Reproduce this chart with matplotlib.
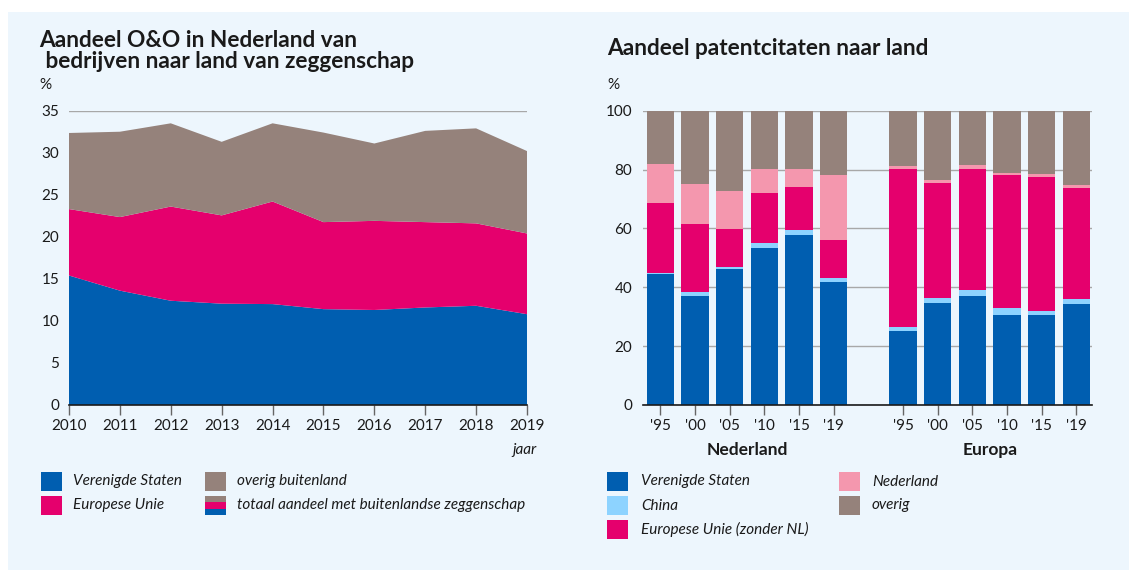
import matplotlib
matplotlib.use('Agg')
import matplotlib.pyplot as plt
import numpy as np
from matplotlib.patches import Rectangle

# ---------------- data ----------------
years = [2010, 2011, 2012, 2013, 2014, 2015, 2016, 2017, 2018, 2019]
rd_us = [15.4, 13.6, 12.4, 12.05, 12.0, 11.4, 11.3, 11.6, 11.8, 10.8]
rd_eu = [7.9, 8.75, 11.2, 10.5, 12.2, 10.35, 10.6, 10.15, 9.8, 9.6]
rd_other = [9.05, 10.15, 9.9, 8.75, 9.3, 10.65, 9.2, 10.85, 11.3, 9.8]

period_labels = ["'95", "'00", "'05", "'10", "'15", "'19"]
groups = ["Nederland", "Europa"]
# patent citations, Nederland group then Europa group
pat_us = [44.5, 37.1, 46.1, 53.5, 57.8, 41.8,
          25.1, 34.7, 36.9, 30.7, 30.5, 34.3]
pat_china = [0.5, 1.4, 0.8, 1.5, 1.5, 1.5,
             1.4, 1.8, 2.1, 2.4, 1.5, 1.6]
pat_eu = [23.5, 22.9, 13.0, 17.0, 14.8, 12.8,
          53.7, 38.8, 41.1, 44.9, 45.4, 37.7]
pat_nl = [13.4, 13.7, 12.7, 8.1, 6.2, 22.2,
          1.0, 1.3, 1.6, 0.8, 1.0, 1.0]
pat_other = [18.1, 24.9, 27.4, 19.9, 19.7, 21.7,
             18.8, 23.4, 18.3, 21.2, 21.6, 25.4]

# ---------------- style ----------------
C_US = '#005EB0'
C_CN = '#8DD3FF'
C_EU = '#E5006D'
C_NL = '#F497AE'
C_OT = '#95827B'
BG = '#EDF6FD'
TXT = '#1a1a1a'
GRID = '#A8A8A8'
TITLE_FS = 16.3
TICK_FS = 11
LEG_FS = 11

W, H = 1129, 570
plt.rcParams['font.family'] = ['Lato', 'DejaVu Sans']
fig = plt.figure(figsize=(W / 100, H / 100), dpi=100)
fig.patch.set_facecolor('white')
fig.patches.append(Rectangle((8 / W, 0), 1 - 8 / W, 1 - 12 / H,
                             transform=fig.transFigure, facecolor=BG,
                             edgecolor='none', zorder=-10))


def fx(px):
    return px / W


def fy(py):
    return 1 - py / H


def axrect(l, r, t, b):
    return [fx(l), fy(b), (r - l) / W, (b - t) / H]


# ---------------- left chart ----------------
ax1 = fig.add_axes(axrect(69, 527, 110.7, 405))
ax1.set_facecolor('none')
ax1.stackplot(years, rd_us, rd_eu, rd_other, colors=[C_US, C_EU, C_OT],
              lw=0, zorder=2)
ax1.set_xlim(years[0], years[-1])
ax1.set_ylim(0, 35)
ax1.set_yticks(range(0, 36, 5))
ax1.set_xticks(years)
ax1.set_xticklabels([str(y) for y in years])
ax1.grid(axis='y', color=GRID, lw=1, zorder=0)
ax1.set_axisbelow(True)
for s in ['left', 'right', 'top']:
    ax1.spines[s].set_visible(False)
ax1.spines['bottom'].set_color(TXT)
ax1.spines['bottom'].set_linewidth(1.2)
ax1.spines['bottom'].set_zorder(5)
ax1.tick_params(axis='y', length=0, pad=7, labelsize=TICK_FS, labelcolor=TXT)
ax1.tick_params(axis='x', length=7, width=1, color='#666666', pad=3,
                labelsize=TICK_FS, labelcolor=TXT)

fig.text(fx(39), fy(47), 'Aandeel O&O in Nederland van', fontsize=TITLE_FS,
         fontweight='bold', color=TXT, va='baseline', ha='left')
fig.text(fx(40), fy(68), ' bedrijven naar land van zeggenschap', fontsize=TITLE_FS,
         fontweight='bold', color=TXT, va='baseline', ha='left')
fig.text(fx(39), fy(89), '%', fontsize=TICK_FS, color=TXT, va='baseline')
fig.text(fx(537), fy(454), 'jaar', fontsize=TICK_FS, style='italic', color=TXT,
         va='baseline', ha='right')


# left legend
def legend_square(x, yc, color, w=21, h=19):
    fig.patches.append(Rectangle((fx(x), fy(yc + h / 2)), w / W, h / H,
                                 transform=fig.transFigure, facecolor=color,
                                 edgecolor='none'))


legend_square(41, 481, C_US)
fig.text(fx(73), fy(481), 'Verenigde Staten', fontsize=LEG_FS, style='italic',
         color=TXT, va='center')
legend_square(41, 505.5, C_EU)
fig.text(fx(73), fy(505.5), 'Europese Unie', fontsize=LEG_FS, style='italic',
         color=TXT, va='center')
legend_square(205, 481, C_OT)
fig.text(fx(237), fy(481), 'overig buitenland', fontsize=LEG_FS, style='italic',
         color=TXT, va='center')
# striped square
for i, c in enumerate([C_OT, C_EU, C_US]):
    fig.patches.append(Rectangle((fx(205), fy(496 + (i + 1) * 19 / 3)), 21 / W,
                                 (19 / 3) / H, transform=fig.transFigure,
                                 facecolor=c, edgecolor='none'))
fig.text(fx(237), fy(505.5), 'totaal aandeel met buitenlandse zeggenschap',
         fontsize=LEG_FS, style='italic', color=TXT, va='center')

# ---------------- right chart ----------------
ax2 = fig.add_axes(axrect(643.3, 1091.7, 110.7, 405))
ax2.set_facecolor('none')
n = len(period_labels)
pos = np.concatenate([np.arange(n), np.arange(n) + n + 1])
bottom = np.zeros(len(pos))
for vals, col in [(pat_us, C_US), (pat_china, C_CN), (pat_eu, C_EU),
                  (pat_nl, C_NL), (pat_other, C_OT)]:
    v = np.array(vals)
    ax2.bar(pos, v, bottom=bottom, width=0.79, color=col, lw=0, zorder=2)
    bottom = bottom + v
ax2.set_xlim(-0.49, 12.44)
ax2.set_ylim(0, 100)
ax2.set_yticks(range(0, 101, 20))
ax2.set_xticks(pos)
ax2.set_xticklabels(period_labels * 2)
ax2.grid(axis='y', color=GRID, lw=1, zorder=0)
ax2.set_axisbelow(True)
for s in ['left', 'right', 'top']:
    ax2.spines[s].set_visible(False)
ax2.spines['bottom'].set_color(TXT)
ax2.spines['bottom'].set_linewidth(1.2)
ax2.spines['bottom'].set_zorder(5)
ax2.tick_params(axis='y', length=0, pad=8, labelsize=TICK_FS, labelcolor=TXT)
ax2.tick_params(axis='x', length=7, width=1, color='#666666', pad=3,
                labelsize=TICK_FS, labelcolor=TXT)
tr = ax2.get_xaxis_transform()
ax2.text((n - 1) / 2, -0.153, groups[0], transform=tr, ha='center',
         va='center', fontsize=12.5, fontweight='bold', color=TXT)
ax2.text(n + 1 + (n - 1) / 2, -0.153, groups[1], transform=tr, ha='center',
         va='center', fontsize=12.5, fontweight='bold', color=TXT)

fig.text(fx(607), fy(55), 'Aandeel patentcitaten naar land', fontsize=TITLE_FS,
         fontweight='bold', color=TXT, va='baseline', ha='left')
fig.text(fx(607), fy(89), '%', fontsize=TICK_FS, color=TXT, va='baseline')

legend_square(607, 481.5, C_US)
fig.text(fx(641), fy(481.5), 'Verenigde Staten', fontsize=LEG_FS, style='italic',
         color=TXT, va='center')
legend_square(607, 505.5, C_CN)
fig.text(fx(641), fy(505.5), 'China', fontsize=LEG_FS, style='italic',
         color=TXT, va='center')
legend_square(607, 529.5, C_EU)
fig.text(fx(641), fy(529.5), 'Europese Unie (zonder NL)', fontsize=LEG_FS,
         style='italic', color=TXT, va='center')
legend_square(839, 481.5, C_NL)
fig.text(fx(872), fy(481.5), 'Nederland', fontsize=LEG_FS, style='italic',
         color=TXT, va='center')
legend_square(839, 505.5, C_OT)
fig.text(fx(872), fy(505.5), 'overig', fontsize=LEG_FS, style='italic',
         color=TXT, va='center')

fig.savefig('out.png', dpi=100, facecolor=fig.get_facecolor())
